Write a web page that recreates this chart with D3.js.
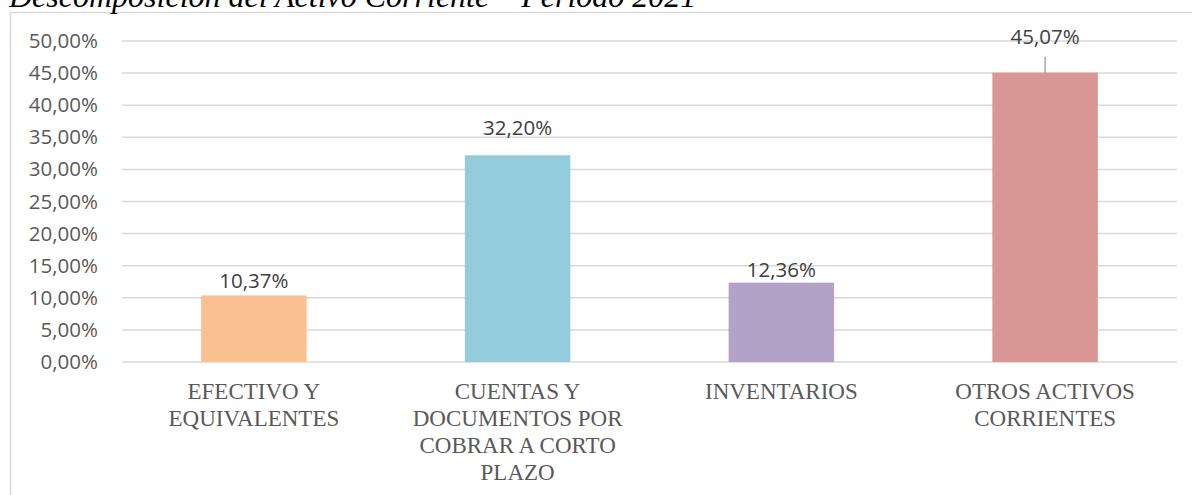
<!DOCTYPE html>
<html>
<head>
<meta charset="utf-8">
<script src="https://cdn.jsdelivr.net/npm/d3@7"></script>
<style>
  body { margin: 0; background: #fff; }
  svg { display: block; }
</style>
</head>
<body>
<div class="canvas"></div>
<script>
// data
const categories = ['EFECTIVO Y EQUIVALENTES', 'CUENTAS Y DOCUMENTOS POR COBRAR A CORTO PLAZO', 'INVENTARIOS', 'OTROS ACTIVOS CORRIENTES']
const values = [10.37, 32.20, 12.36, 45.07]
const colors = ['#FAC090', '#93CDDD', '#B3A2C7', '#D99694']
const yTicks = [0, 5, 10, 15, 20, 25, 30, 35, 40, 45, 50]
const title = 'Descomposición del Activo Corriente – Periodo 2021'

const width = 1192
const height = 495
const margin = { top: 41, right: 15, bottom: 133, left: 122 }
const graphWidth = width - margin.left - margin.right
const graphHeight = height - margin.top - margin.bottom

const svg = d3.select('.canvas')
    .append('svg')
    .attr('width', width)
    .attr('height', height)

// chart area border (right and bottom run off the picture)
svg.append('rect')
    .attr('x', 10.5)
    .attr('y', 12.5)
    .attr('width', 1200)
    .attr('height', 520)
    .attr('fill', 'none')
    .attr('stroke', '#d9d9d9')
    .attr('stroke-width', 1.5)

// title, its top half is cut off in the original
svg.append('text')
    .attr('x', 9)
    .attr('y', 7)
    .attr('font-family', '"Liberation Serif", serif')
    .attr('font-style', 'italic')
    .attr('font-size', 32)
    .attr('fill', '#000')
    .text(title)

const graph = svg.append('g')
    .attr('transform', `translate(${margin.left}, ${margin.top})`)

// scales
const x = d3.scaleBand().domain(categories).range([0, graphWidth]).paddingInner(0.6).paddingOuter(0.3)
const y = d3.scaleLinear().domain([0, 50]).range([graphHeight, 0])

// gridlines
graph.append('g')
    .selectAll('line')
    .data(yTicks)
    .enter().append('line')
        .attr('x1', 0)
        .attr('x2', graphWidth)
        .attr('y1', d => y(d))
        .attr('y2', d => y(d))
        .attr('stroke', '#d9d9d9')
        .attr('stroke-width', 1.5)

const fmt = d => d3.format('.2f')(d).replace('.', ',') + '%'

// y axis
const yAxis = d3.axisLeft(y)
    .tickValues(yTicks)
    .tickSize(0)
    .tickPadding(24)
    .tickFormat(fmt)

const yAxisGroup = graph.append('g').call(yAxis)
yAxisGroup.select('.domain').remove()
yAxisGroup.selectAll('text')
    .attr('font-family', '"Open Sans", sans-serif')
    .attr('font-size', 20.5)
    .attr('fill', '#595959')

// bars
graph.selectAll('rect.bar')
    .data(values)
    .enter().append('rect')
        .attr('class', 'bar')
        .attr('x', (d, i) => x(categories[i]))
        .attr('y', d => y(d))
        .attr('width', x.bandwidth())
        .attr('height', d => graphHeight - y(d))
        .attr('fill', (d, i) => colors[i])

// label lift above the bar top (some labels were dragged up in the original)
const labelLift = [7, 20, 6, 29]

graph.selectAll('text.value')
    .data(values)
    .enter().append('text')
        .attr('class', 'value')
        .attr('x', (d, i) => x(categories[i]) + x.bandwidth() / 2)
        .attr('y', (d, i) => y(d) - labelLift[i])
        .attr('text-anchor', 'middle')
        .attr('font-family', '"Open Sans", sans-serif')
        .attr('font-size', 20.5)
        .attr('fill', '#404040')
        .text(fmt)

// leader line for the moved label
values.forEach((d, i) => {
    if (labelLift[i] > 20) {
        const cx = x(categories[i]) + x.bandwidth() / 2
        graph.append('line')
            .attr('x1', cx).attr('x2', cx)
            .attr('y1', y(d)).attr('y2', y(d) - labelLift[i] + 13)
            .attr('stroke', '#a6a6a6')
            .attr('stroke-width', 1.5)
    }
})

// category labels, wrapped
const xAxisGroup = graph.append('g')
    .attr('transform', `translate(0, ${graphHeight})`)

xAxisGroup.selectAll('text')
    .data(categories)
    .enter().append('text')
        .attr('x', d => x(d) + x.bandwidth() / 2)
        .attr('y', 37)
        .attr('text-anchor', 'middle')
        .attr('font-family', '"Liberation Serif", serif')
        .attr('font-size', 23)
        .attr('fill', '#595959')
        .each(function(d) {
            const text = d3.select(this)
            const cx = text.attr('x')
            const words = d.split(' ')
            let line = []
            let tspan = text.append('tspan').attr('x', cx).attr('dy', 0)
            words.forEach(w => {
                line.push(w)
                tspan.text(line.join(' '))
                if (tspan.node().getComputedTextLength() > 225 && line.length > 1) {
                    line.pop()
                    tspan.text(line.join(' '))
                    line = [w]
                    tspan = text.append('tspan').attr('x', cx).attr('dy', 27).text(w)
                }
            })
        })
</script>
</body>
</html>
